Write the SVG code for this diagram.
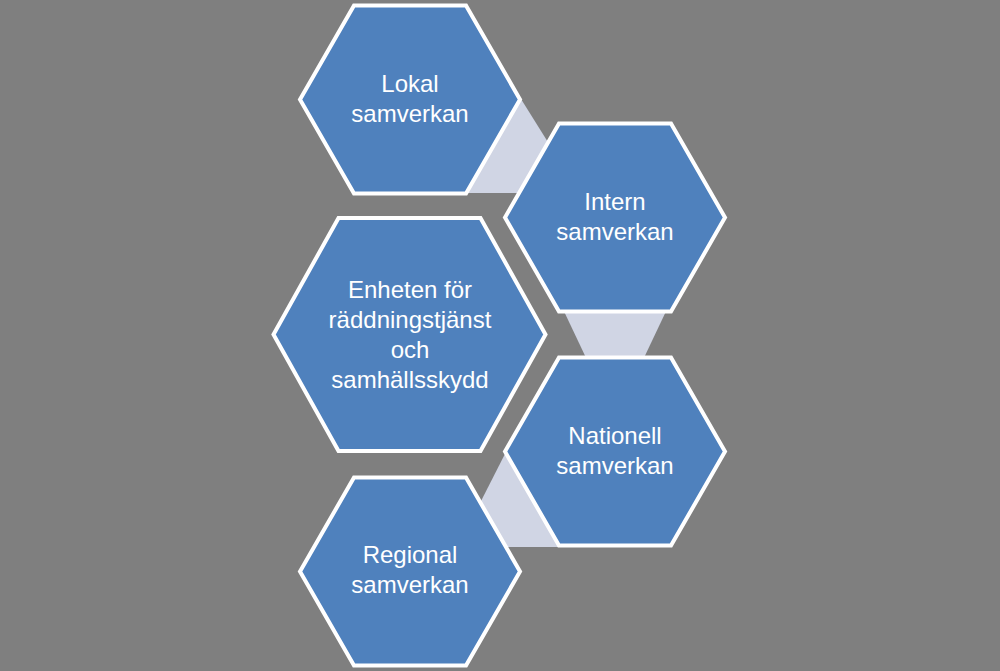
<svg xmlns="http://www.w3.org/2000/svg" width="1000" height="671" viewBox="0 0 1000 671">
<style>
.hex{fill:#4F81BD;stroke:#FFFFFF;stroke-width:4;stroke-linejoin:miter}
.conn{fill:#D0D5E4;stroke:none}
.t{font-family:"Liberation Sans",Arial,sans-serif;font-size:24px;fill:#FFFFFF;text-anchor:middle}
</style>
<rect x="0" y="0" width="1000" height="671" fill="#7F7F7F"/>
<g id="connectors">
<polygon class="conn" points="516,91 556,155 530,193 462,193"/>
<polygon class="conn" points="561,305 669,305 642,362 588,362"/>
<polygon class="conn" points="508,448 479,505 505,547 565,547"/>
</g>
<g id="lokal">
<polygon class="hex" points="300,99.5 354,5.5 466,5.5 520,99.5 466,193.5 354,193.5"/>
<text class="t" x="410" y="92">Lokal</text>
<text class="t" x="410" y="122">samverkan</text>
</g>
<g id="intern">
<polygon class="hex" points="505,217.5 559,123.5 671,123.5 725,217.5 671,311.5 559,311.5"/>
<text class="t" x="615" y="210">Intern</text>
<text class="t" x="615" y="240">samverkan</text>
</g>
<g id="enheten">
<polygon class="hex" points="273.5,334.5 338.5,218 480.5,218 545.5,334.5 480.5,451 338.5,451"/>
<text class="t" x="410" y="298">Enheten för</text>
<text class="t" x="410" y="328">räddningstjänst</text>
<text class="t" x="410" y="358">och</text>
<text class="t" x="410" y="388">samhällsskydd</text>
</g>
<g id="nationell">
<polygon class="hex" points="505,451.5 559,357.5 671,357.5 725,451.5 671,545.5 559,545.5"/>
<text class="t" x="615" y="444">Nationell</text>
<text class="t" x="615" y="474">samverkan</text>
</g>
<g id="regional">
<polygon class="hex" points="300,571.5 354,477.5 466,477.5 520,571.5 466,665.5 354,665.5"/>
<text class="t" x="410" y="563">Regional</text>
<text class="t" x="410" y="593">samverkan</text>
</g>
</svg>
